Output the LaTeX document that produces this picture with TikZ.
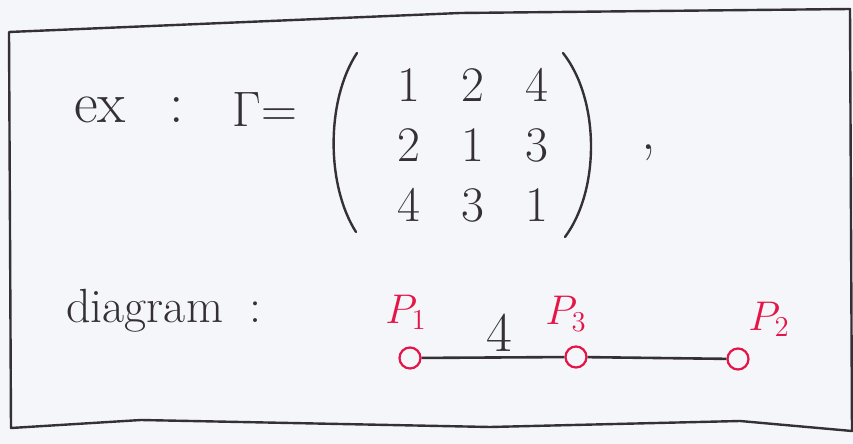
\documentclass[tikz,border=0pt]{standalone}
\usepackage{amsmath, amssymb}
\usepackage{tikz}
\usetikzlibrary{matrix, positioning, calc}
\definecolor{paperwhite}{RGB}{245,246,250}
\definecolor{penblack}{RGB}{52,48,54}
\definecolor{penred}{RGB}{228,22,72}
\tikzset{
    hand_text/.style={
        font=\fontsize{29}{34}\selectfont, text=penblack, inner sep=0pt
    },
    hand_small/.style={
        font=\fontsize{24}{29}\selectfont, text=penblack, inner sep=0pt
    },
    cell_text/.style={
        font=\fontsize{24}{28}\selectfont, text=penblack,
        minimum width=20pt, minimum height=20pt, inner sep=0pt
    },
    vertex_red/.style={
        circle, draw=penred, line width=1.1pt, minimum size=10.5pt, inner sep=0pt
    },
    vertex_lbl/.style={
        font=\fontsize{21}{25}\selectfont, text=penred, inner sep=0pt
    },
    weight_lbl/.style={
        font=\fontsize{28}{32}\selectfont, text=penblack, inner sep=0pt
    },
    edge_line/.style={
        draw=penblack, line width=1.3pt
    },
    paren_line/.style={
        draw=penblack, line width=1.2pt, line cap=round
    },
    frame_line/.style={
        draw=penblack, line width=1.2pt, line join=round
    }
}

\begin{document}
\begin{tikzpicture}[x=0.5pt, y=-0.5pt]

    % --- Paper ---
    \fill[paperwhite] (0,0) rectangle (853,444);
    \useasboundingbox (0,0) rectangle (853,444);

    % --- Frame ---
    \coordinate (frame_tl) at (9,32);
    \coordinate (frame_tm) at (460,13);
    \coordinate (frame_tr) at (850,9);
    \coordinate (frame_br) at (852,431);
    \coordinate (frame_bm) at (740,421);
    \coordinate (frame_bc) at (490,427);
    \coordinate (frame_bn) at (141,420);
    \coordinate (frame_bl) at (11,428);
    \draw[frame_line] (frame_tl) -- (frame_tm) -- (frame_tr) -- (frame_br)
        -- (frame_bm) -- (frame_bc) -- (frame_bn) -- (frame_bl) -- cycle;

    % --- Example: Gamma matrix ---
    \node[hand_text, anchor=base west] (ex) at (74,123) {ex\hspace{0.75em}:};
    \node[hand_text, anchor=base west] (gamma_eq) at (232,127) {$\Gamma{=}$};

    \matrix (gamma) [matrix of math nodes, nodes={cell_text},
        column sep=12pt, row sep=10pt] at (473,145) {
        1 & 2 & 4 \\
        2 & 1 & 3 \\
        4 & 3 & 1 \\
    };

    % parentheses, drawn by hand
    \coordinate (lparen_top) at (357,53);
    \coordinate (lparen_bot) at (356,232);
    \coordinate (rparen_top) at (563,53);
    \coordinate (rparen_bot) at (565,237);
    \draw[paren_line] (lparen_top) .. controls (326,100) and (326,185) .. (lparen_bot);
    \draw[paren_line] (rparen_top) .. controls (600,100) and (600,190) .. (rparen_bot);

    \node[hand_text, anchor=base] (comma) at (649,150) {,};

    % --- Diagram ---
    \node[hand_small, anchor=base west] (diag) at (66,322) {diagram\hspace{0.55em}:};

    \node[vertex_red] (p1) at (410,358) {};
    \node[vertex_red] (p3) at (576,357) {};
    \node[vertex_red] (p2) at (738,359) {};

    \node[vertex_lbl, anchor=base west] (p1_lbl) at (385,323) {$P_1$};
    \node[vertex_lbl, anchor=base west] (p3_lbl) at (545,325) {$P_3$};
    \node[vertex_lbl, anchor=base west] (p2_lbl) at (748,330) {$P_2$};

    \draw[edge_line] (p1) -- node[weight_lbl, above=2.5pt, xshift=3pt] {4} (p3);
    \draw[edge_line] (p3) -- (p2);

\end{tikzpicture}
\end{document}
